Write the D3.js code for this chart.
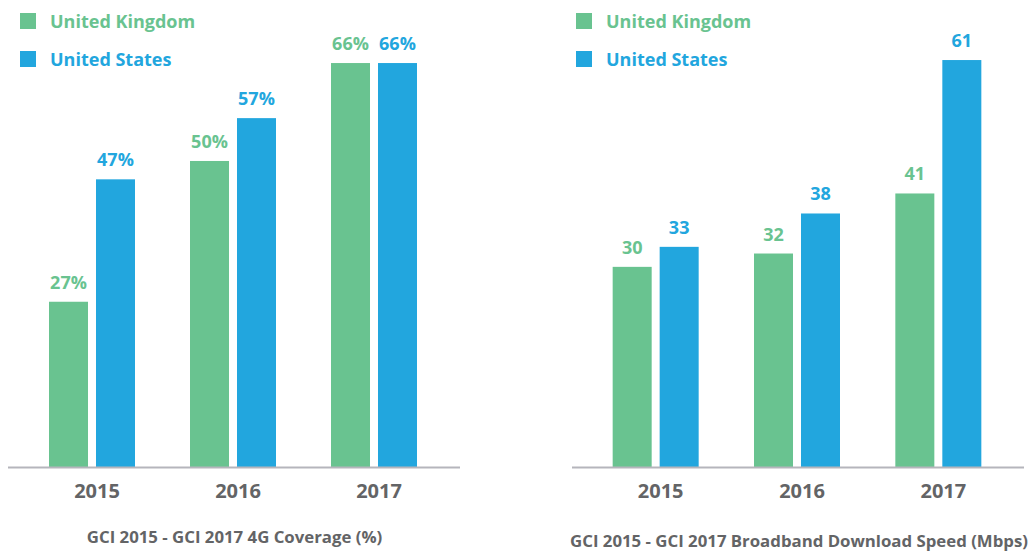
<!DOCTYPE html>
<html>
<head>
<meta charset="utf-8">
<script src="https://cdn.jsdelivr.net/npm/d3@7"></script>
<style>
  html, body { margin: 0; padding: 0; background: #ffffff; }
  svg { display: block; font-family: "Open Sans", sans-serif; }
</style>
</head>
<body>
<svg id="chart" width="1034" height="553"></svg>
<script>
// ---- Data ----
const years = ["2015", "2016", "2017"];
const seriesNames = ["United Kingdom", "United States"];
const coverageUK = [27, 50, 66];
const coverageUS = [47, 57, 66];
const speedUK = [30, 32, 41];
const speedUS = [33, 38, 61];
const coverageTitle = "GCI 2015 - GCI 2017 4G Coverage (%)";
const speedTitle = "GCI 2015 - GCI 2017 Broadband Download Speed (Mbps)";

const colors = { "United Kingdom": "#69c390", "United States": "#22a6de" };
const textGray = "#636466";

const svg = d3.select("#chart");

function drawPanel(cfg) {
  const g = svg.append("g");
  const baseY = 467;
  const x0 = d3.scaleBand().domain(years).range(cfg.bandRange).paddingInner(0).paddingOuter(0);
  const x1 = d3.scaleBand().domain(seriesNames).range([-43, 43]).paddingInner(0.17);
  const y = d3.scaleLinear().domain([0, cfg.yMax]).range([baseY, 0]);

  const rows = years.map((yr, i) => ({
    year: yr,
    vals: [
      { s: seriesNames[0], v: cfg.uk[i] },
      { s: seriesNames[1], v: cfg.us[i] }
    ]
  }));

  const groups = g.selectAll("g.grp").data(rows).join("g")
    .attr("class", "grp")
    .attr("transform", d => `translate(${x0(d.year) + x0.bandwidth() / 2},0)`);

  groups.selectAll("rect").data(d => d.vals).join("rect")
    .attr("x", d => x1(d.s))
    .attr("width", x1.bandwidth())
    .attr("y", d => y(d.v))
    .attr("height", d => baseY - y(d.v))
    .attr("fill", d => colors[d.s]);

  groups.selectAll("text.val").data(d => d.vals).join("text")
    .attr("class", "val")
    .attr("x", d => x1(d.s) + x1.bandwidth() / 2)
    .attr("y", d => y(d.v) - 13)
    .attr("text-anchor", "middle")
    .attr("font-size", 18)
    .attr("font-weight", 700)
    .attr("fill", d => colors[d.s])
    .text(d => d.v + cfg.suffix);

  // x axis
  const axis = d3.axisBottom(x0).tickSize(0).tickPadding(0);
  const ax = g.append("g").attr("transform", `translate(0,${baseY})`).call(axis);
  ax.select(".domain").remove();
  ax.selectAll(".tick text")
    .attr("dx", 5)
    .attr("y", 31)
    .attr("dy", 0)
    .attr("font-family", "Open Sans, sans-serif")
    .attr("font-size", 20)
    .attr("font-weight", 700)
    .attr("fill", textGray);
  g.append("line")
    .attr("x1", cfg.axisX[0]).attr("x2", cfg.axisX[1])
    .attr("y1", baseY + 0.5).attr("y2", baseY + 0.5)
    .attr("stroke", "#b5b5bc").attr("stroke-width", 2);

  // legend
  const leg = g.append("g").attr("transform", `translate(${cfg.legendX},0)`);
  seriesNames.forEach((s, i) => {
    leg.append("rect").attr("x", 0).attr("y", 13 + i * 38).attr("width", 16).attr("height", 16).attr("fill", colors[s]);
    leg.append("text").attr("x", 30).attr("y", 28 + i * 38)
      .attr("font-size", 18).attr("font-weight", 700).attr("fill", colors[s]).text(s);
  });

  // title
  g.append("text")
    .attr("x", cfg.titleX).attr("y", cfg.titleY)
    .attr("text-anchor", "middle")
    .attr("font-size", 16.8).attr("font-weight", 700)
    .attr("fill", textGray)
    .text(cfg.title);
}

drawPanel({
  uk: coverageUK, us: coverageUS, suffix: "%",
  bandRange: [21.5, 444.5], yMax: 76.3, axisX: [8, 460],
  legendX: 20, title: coverageTitle, titleX: 234.5, titleY: 543
});
drawPanel({
  uk: speedUK, us: speedUS, suffix: "",
  bandRange: [585, 1009], yMax: 70, axisX: [572, 1024],
  legendX: 576, title: speedTitle, titleX: 799, titleY: 547
});
</script>
</body>
</html>
